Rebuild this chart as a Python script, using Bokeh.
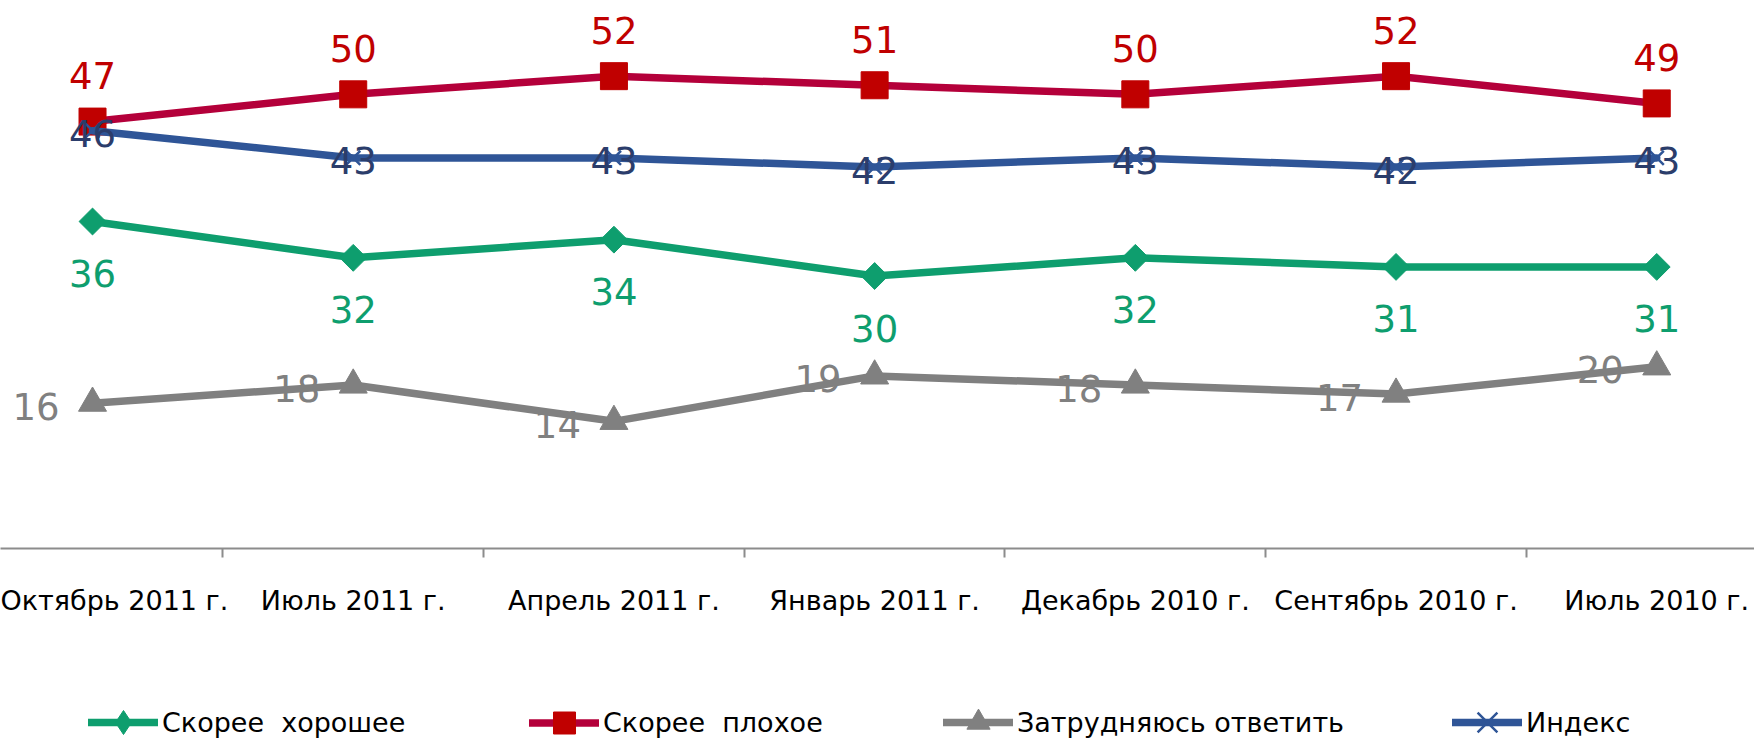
from bokeh.plotting import figure
from bokeh.layouts import column
from bokeh.models import (ColumnDataSource, FixedTicker, Legend, LegendItem, Range1d)
from bokeh.core.properties import value
from bokeh.embed import file_html
from bokeh.resources import INLINE

categories = ["Октябрь 2011 г.", "Июль 2011 г.", "Апрель 2011 г.", "Январь 2011 г.",
              "Декабрь 2010 г.", "Сентябрь 2010 г.", "Июль 2010 г."]
good = [36, 32, 34, 30, 32, 31, 31]
bad = [47, 50, 52, 51, 50, 52, 49]
hard = [16, 18, 14, 19, 18, 17, 20]
index = [46, 43, 43, 42, 43, 42, 43]

series_names = ["Скорее  хорошее", "Скорее  плохое", "Затрудняюсь ответить", "Индекс"]

FONT = "DejaVu Sans"
GREEN = "#0E9E6E"
RED_LINE = "#B4003A"
RED = "#C00000"
BLUE_LINE = "#2F5597"
BLUE_TXT = "#2B3D6B"
GRAY = "#808080"
AXIS_GRAY = "#8C8C8C"

W = 1754
H_MAIN = 650
H_LEG = 739 - H_MAIN

xs = list(range(len(categories)))
src = ColumnDataSource(dict(
    x=xs, good=good, bad=bad, hard=hard, index=index,
    good_t=[str(v) for v in good], bad_t=[str(v) for v in bad],
    hard_t=[str(v) for v in hard], index_t=[str(v) for v in index],
))

p = figure(width=W, height=H_MAIN, output_backend="svg", toolbar_location=None,
           x_range=Range1d(-0.353, 6.375), y_range=Range1d(0, 60))
p.min_border_left = 0
p.min_border_right = 0
p.min_border_top = 3
p.min_border_bottom = H_MAIN - 548
p.outline_line_color = None
p.xgrid.visible = False
p.ygrid.visible = False
p.yaxis.visible = False

ax = p.xaxis[0]
ax.ticker = FixedTicker(ticks=xs, minor_ticks=[i + 0.5 for i in xs[:-1]])
ax.major_label_overrides = {i: c for i, c in enumerate(categories)}
ax.major_tick_line_color = None
ax.major_tick_out = 0
ax.major_tick_in = 0
ax.minor_tick_line_color = AXIS_GRAY
ax.minor_tick_line_width = 2
ax.minor_tick_out = 9
ax.minor_tick_in = 0
ax.axis_line_color = AXIS_GRAY
ax.axis_line_width = 2
ax.major_label_text_font = FONT
ax.major_label_text_font_size = "27px"
ax.major_label_text_color = "black"
ax.major_label_standoff = 27

LW = 7.5
LINE_KW = [dict(line_color=c, line_width=LW, line_join="round", line_cap="round")
           for c in (GREEN, RED_LINE, GRAY, BLUE_LINE)]
MARK_KW = [
    dict(marker="square", angle=0.7854, size=19, fill_color=GREEN, line_color=GREEN),
    dict(marker="square", size=27, fill_color=RED, line_color=RED),
    dict(marker="triangle", size=28, fill_color=GRAY, line_color=GRAY),
    dict(marker="x", size=20, line_color=BLUE_LINE, line_width=2.5),
]
# legend markers (the legend ignores marker angle, so a diamond shape is used there)
LEG_MARK_KW = [
    dict(marker="diamond", fill_color=GREEN, line_color=GREEN),
    dict(marker="square", fill_color=RED, line_color=RED),
    dict(marker="triangle", fill_color=GRAY, line_color=GRAY),
    dict(marker="x", line_color=BLUE_LINE, line_width=2.5),
]

cols = ["good", "bad", "hard", "index"]
for c, lk, mk in zip(cols, LINE_KW, MARK_KW):
    p.line("x", c, source=src, **lk)
    p.scatter("x", c, source=src, **mk)

LBL = "37px"
p.text("x", "bad", text="bad_t", source=src, text_font=value(FONT), text_font_size=LBL,
       text_color=RED, text_align="center", text_baseline="middle", y_offset=-46)
p.text("x", "good", text="good_t", source=src, text_font=value(FONT), text_font_size=LBL,
       text_color=GREEN, text_align="center", text_baseline="middle", y_offset=52)
p.text("x", "hard", text="hard_t", source=src, text_font=value(FONT), text_font_size=LBL,
       text_color=GRAY, text_align="right", text_baseline="middle", x_offset=-33, y_offset=3)
p.text("x", "index", text="index_t", source=src, text_font=value(FONT), text_font_size=LBL,
       text_color=BLUE_TXT, text_align="center", text_baseline="middle", y_offset=3)

# legend strip below the chart
q = figure(width=W, height=H_LEG, output_backend="svg", toolbar_location=None,
           x_range=Range1d(0, W), y_range=Range1d(0, H_LEG))
q.min_border_left = q.min_border_right = q.min_border_top = q.min_border_bottom = 0
q.outline_line_color = None
q.xaxis.visible = False
q.yaxis.visible = False
q.xgrid.visible = False
q.ygrid.visible = False

nan = float("nan")
legend_x = [88, 529, 943, 1452]
glyph_h = [60, 55, 58, 80]   # legend marker size = 0.4 * glyph height
CENTER = 17                  # legend row centre, px above the bottom edge
for name, lk, mk, lx, gh in zip(series_names, LINE_KW, LEG_MARK_KW, legend_x, glyph_h):
    e = ColumnDataSource(dict(x=[nan], y=[nan]))
    ln = q.line("x", "y", source=e, **lk)
    sc = q.scatter("x", "y", source=e, **mk)
    leg = Legend(items=[LegendItem(label=name, renderers=[ln, sc], index=0)],
                 location=(lx, CENTER - gh / 2), orientation="horizontal",
                 padding=0, margin=0, border_line_color=None,
                 background_fill_alpha=0, glyph_width=70, glyph_height=gh,
                 label_standoff=4, label_text_font=FONT, label_text_font_size="27px",
                 label_text_color="black", label_height=30)
    q.add_layout(leg)

layout = column(p, q, spacing=0)
open("out.html", "w").write(file_html(layout, INLINE))
